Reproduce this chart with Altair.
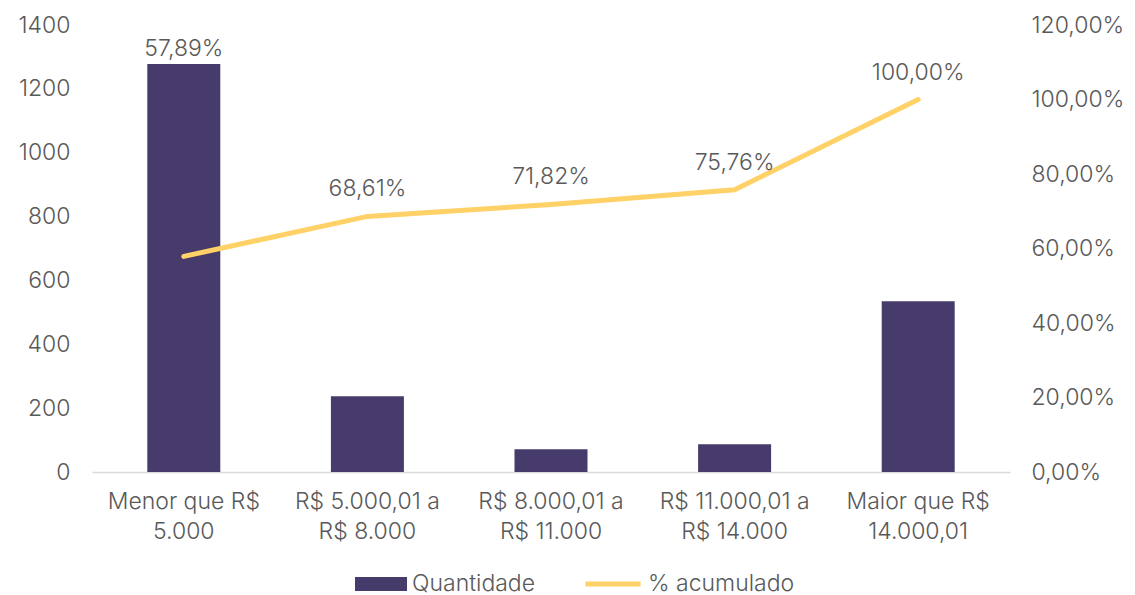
import altair as alt
import pandas as pd

categorias = ["Menor que R$ 5.000", "R$ 5.000,01 a R$ 8.000", "R$ 8.000,01 a R$ 11.000",
              "R$ 11.000,01 a R$ 14.000", "Maior que R$ 14.000,01"]
linhas_rotulo = [["Menor que R$", "5.000"], ["R$ 5.000,01 a", "R$ 8.000"], ["R$ 8.000,01 a", "R$ 11.000"],
                 ["R$ 11.000,01 a", "R$ 14.000"], ["Maior que R$", "14.000,01"]]
quantidade = [1278, 237, 71, 87, 535]
acumulado = [0.5789, 0.6861, 0.7182, 0.7576, 1.0]

FONT = "Inter"
GREY = "#595959"
BAR = "#463B6B"
LINE = "#FFD166"
FS = 23
FW = 300

df = pd.DataFrame({"cat": categorias, "qtd": quantidade, "pct": acumulado})

label_map = "{" + ",".join(f"'{c}': ['{a}', '{b}']" for c, (a, b) in zip(categorias, linhas_rotulo)) + "}"

x = alt.X("cat:N", sort=categorias, title=None,
          scale=alt.Scale(paddingInner=0.6, paddingOuter=0.3),
          axis=alt.Axis(labelExpr=label_map + "[datum.label]", labelAngle=0, ticks=False,
                        domainColor="#D9D9D9", domainWidth=1.5, labelPadding=18,
                        labelLineHeight=30, labelBaseline="top"))

base = alt.Chart(df)

bars = base.transform_calculate(s1="'Quantidade'").mark_bar(size=73).encode(
    x=x,
    y=alt.Y("qtd:Q", title=None, scale=alt.Scale(domain=[0, 1400]),
            axis=alt.Axis(values=list(range(0, 1401, 200)), format="d", grid=False, ticks=False,
                          domain=False, labelPadding=22)),
    color=alt.Color("s1:N", scale=alt.Scale(domain=["Quantidade"], range=[BAR]),
                    legend=alt.Legend(title=None, orient="none", legendX=263, legendY=533,
                                      symbolType="M-1,-0.27L1,-0.27L1,0.27L-1,0.27Z",
                                      symbolSize=2704, symbolStrokeWidth=0, labelOffset=5,
                                      padding=0)),
)

bar_text = base.transform_filter(alt.datum.cat == categorias[0]).transform_calculate(
    lab="replace(format(datum.pct, '.2%'), '.', ',')"
).mark_text(font=FONT, fontSize=FS, fontWeight=FW, color=GREY, baseline="middle", dy=-15).encode(
    x=x, y=alt.Y("qtd:Q"), text="lab:N")

line = base.transform_calculate(s2="'% acumulado'").mark_line(strokeWidth=5, strokeCap="round").encode(
    x=x,
    y=alt.Y("pct:Q", title=None, scale=alt.Scale(domain=[0, 1.2]),
            axis=alt.Axis(orient="right", values=[0, 0.2, 0.4, 0.6, 0.8, 1.0, 1.2],
                          labelExpr="replace(format(datum.value, '.2%'), '.', ',')",
                          grid=False, ticks=False, domain=False, labelPadding=21, labelAlign="left")),
    stroke=alt.Stroke("s2:N", scale=alt.Scale(domain=["% acumulado"], range=[LINE]),
                      legend=alt.Legend(title=None, orient="none", legendX=491, legendY=529,
                                        symbolType="stroke", symbolSize=3025, symbolStrokeWidth=5,
                                        labelOffset=5, padding=0)),
)

line_text = base.transform_filter(alt.datum.cat != categorias[0]).transform_calculate(
    lab="replace(format(datum.pct, '.2%'), '.', ',')"
).mark_text(font=FONT, fontSize=FS, fontWeight=FW, color=GREY, baseline="middle", dy=-27).encode(
    x=x, y=alt.Y("pct:Q"), text="lab:N")

left = alt.layer(bars, bar_text)
right = alt.layer(line, line_text)

chart = alt.layer(left, right).resolve_scale(y="independent", color="independent").properties(
    width=918, height=447,
    autosize=alt.AutoSizeParams(type="none"),
    padding={"left": 84, "top": 17, "right": 117, "bottom": 132},
).configure_view(stroke=None).configure_axis(
    labelFont=FONT, labelFontSize=FS, labelColor=GREY, labelFontWeight=FW
).configure_legend(
    labelFont=FONT, labelFontSize=FS, labelColor=GREY, labelFontWeight=FW
)

chart.save("out.html", embed_options={"renderer": "svg", "actions": False})
